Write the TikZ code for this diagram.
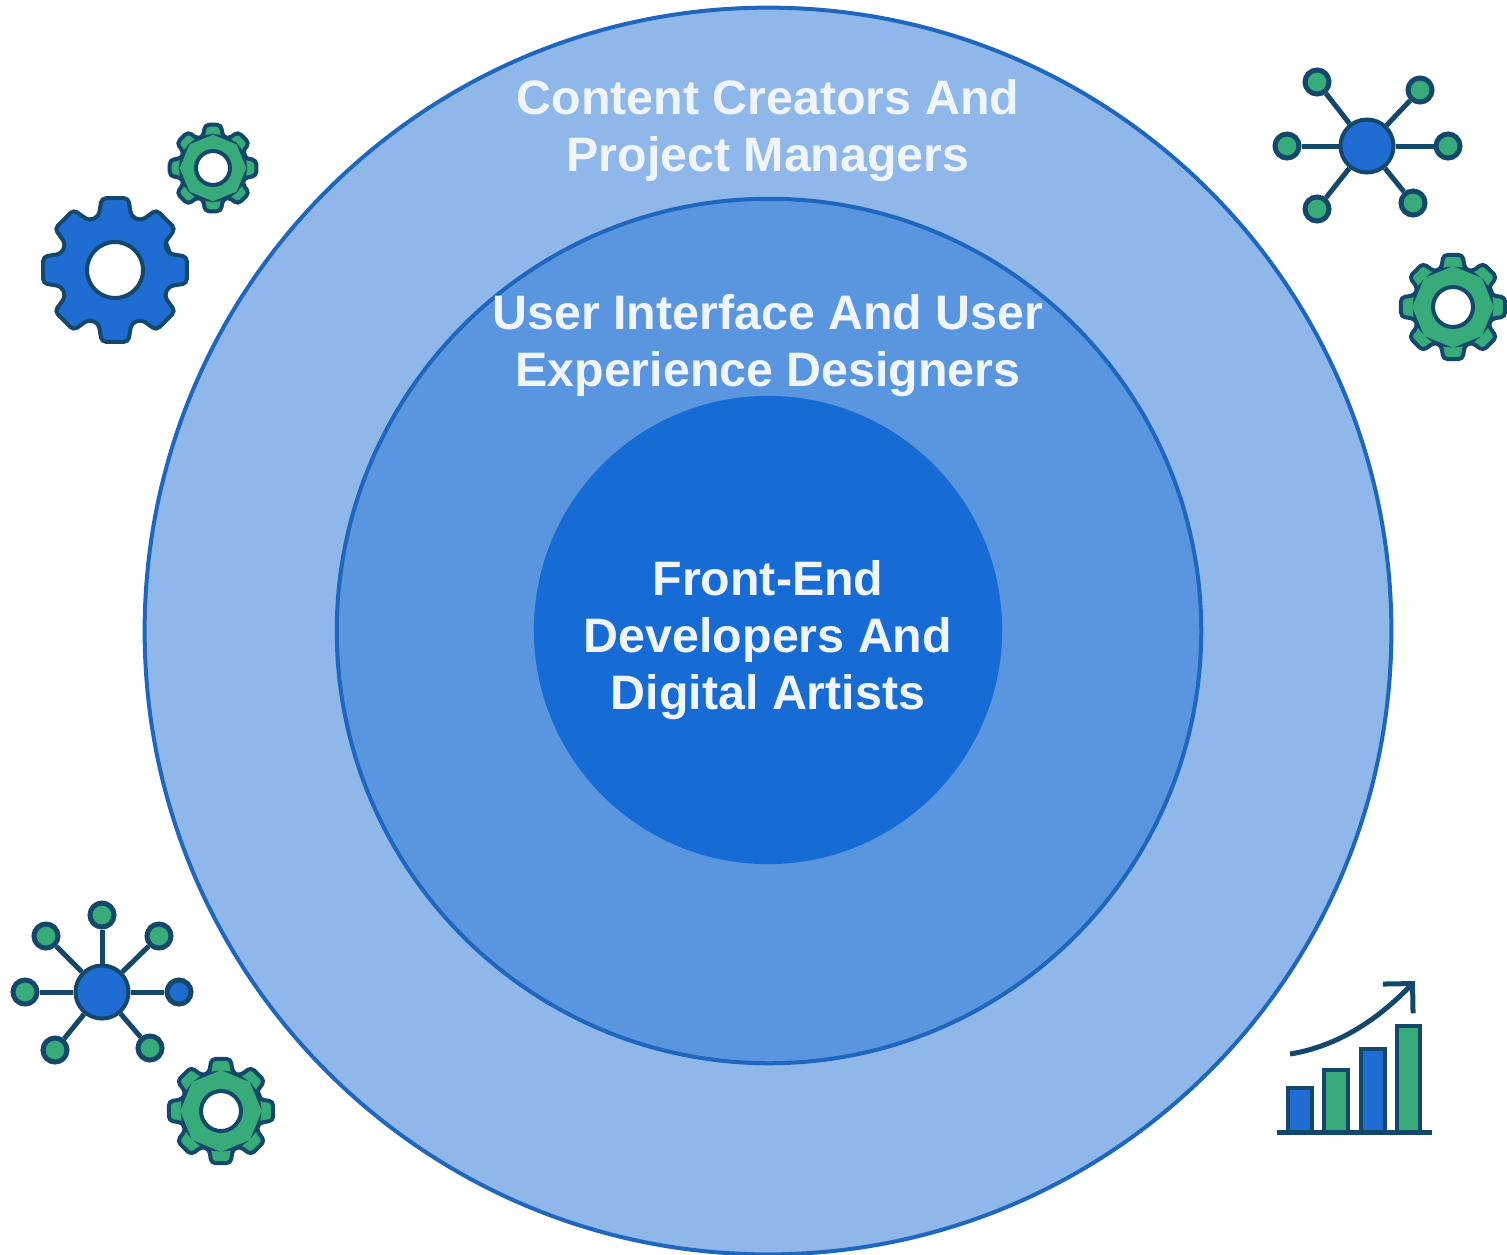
\documentclass[tikz,border=0pt]{standalone}
\usepackage{fontspec}
\setmainfont{Liberation Sans}
\usetikzlibrary{arrows.meta}
\definecolor{ring1}{HTML}{8FB7E9}
\definecolor{ring2}{HTML}{5A95DF}
\definecolor{ring3}{HTML}{176BD5}
\definecolor{ringline}{HTML}{1F66BE}
\definecolor{icongreen}{HTML}{37AC7A}
\definecolor{iconblue}{HTML}{1F6DD3}
\definecolor{iconline}{HTML}{14486B}
\definecolor{labelwhite}{HTML}{F0F5FC}
\tikzset{
  ring/.style={circle, draw=ringline, line width=0.4mm, inner sep=0pt},
  ringlabel/.style={text=labelwhite, align=center, font=\fontsize{13.75}{16.2}\selectfont\bfseries},
  hub/.style={circle, draw=iconline, fill=iconblue, line width=0.4mm, inner sep=0pt, minimum size=5.3mm},
  leaf/.style={circle, draw=iconline, fill=icongreen, line width=0.5mm, inner sep=0pt, minimum size=2.4mm},
  spoke/.style={draw=iconline, line width=0.5mm},
  gearbody/.style={draw=iconline, line width=0.4mm, rounded corners=1.2pt},
  bar/.style={draw=iconline, line width=0.4mm},
}
% x y outer root hole fill
\newcommand{\gearicon}[6]{
  \filldraw[gearbody, fill=#6, shift={(#1,#2)}] (-17:#4)
    \foreach \a in {0,45,...,315} { -- (\a-10.5:#3) -- (\a+10.5:#3) -- (\a+17:#4) -- (\a+28:#4) } -- cycle;
  \filldraw[draw=iconline, fill=white, line width=0.4mm] (#1,#2) circle (#5);
}
\begin{document}
\begin{tikzpicture}[x=0.01cm, y=-0.01cm]
\useasboundingbox (0,0) rectangle (1507,1254);
% rings
\node[ring, fill=ring1, minimum size=12.46cm] (outer) at (768,631) {};
\node[ring, fill=ring2, minimum size=8.64cm] (middle) at (769,631) {};
\node[ring, fill=ring3, draw=ring3, minimum size=4.64cm] (inner) at (768,630) {};
\node[ringlabel] (outerlabel) at (768,131) {Content Creators And\\Project Managers};
\node[ringlabel] (middlelabel) at (768,346) {User Interface And User\\Experience Designers};
\node[ringlabel] (innerlabel) at (768,640) {Front-End\\Developers And\\Digital Artists};
% gears
\gearicon{115}{270}{73}{56}{28}{iconblue}
\gearicon{213}{168}{44}{33}{17}{icongreen}
\gearicon{1453}{307}{53}{40}{20}{icongreen}
\gearicon{221}{1111}{53}{40}{20}{icongreen}
% top right network
\node[hub] (hubA) at (1367,146) {};
\node[leaf] (a1) at (1317,82) {};
\node[leaf] (a2) at (1420,90) {};
\node[leaf] (a3) at (1287,146) {};
\node[leaf] (a4) at (1448,146) {};
\node[leaf] (a5) at (1317,209) {};
\node[leaf] (a6) at (1413,203) {};
\foreach \n in {a1,a2,a3,a4,a5,a6} \draw[spoke] (hubA) -- (\n);
% bottom left network
\node[hub] (hubB) at (102,992) {};
\node[leaf] (b1) at (46,936) {};
\node[leaf] (b2) at (102,915) {};
\node[leaf] (b3) at (159,936) {};
\node[leaf] (b4) at (25,992) {};
\node[leaf, fill=iconblue] (b5) at (179,992) {};
\node[leaf] (b6) at (55,1050) {};
\node[leaf] (b7) at (150,1048) {};
\foreach \n in {b1,b2,b3,b4,b5,b6,b7} \draw[spoke] (hubB) -- (\n);
% chart
\filldraw[bar, fill=iconblue] (1288,1132) rectangle (1312,1088);
\filldraw[bar, fill=icongreen] (1324,1132) rectangle (1348,1070);
\filldraw[bar, fill=iconblue] (1361,1132) rectangle (1385,1049);
\filldraw[bar, fill=icongreen] (1397,1132) rectangle (1420,1026);
\coordinate (axisL) at (1277,1132);
\coordinate (axisR) at (1432,1132);
\coordinate (trendA) at (1290,1054);
\coordinate (trendB) at (1415,981);
\draw[iconline, line width=0.5mm] (axisL) -- (axisR);
\draw[iconline, line width=0.5mm, -{Straight Barb[length=2.1mm, width=4.2mm]}] (trendA) .. controls (1345,1045) and (1385,1012) .. (trendB);
\end{tikzpicture}
\end{document}
